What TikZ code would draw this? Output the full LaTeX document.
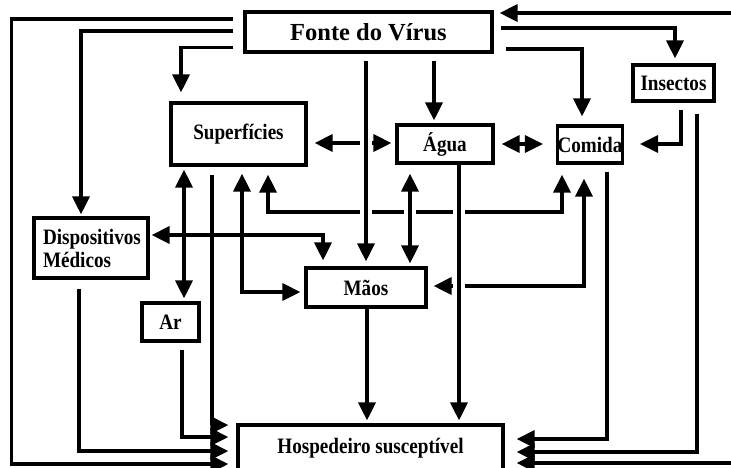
\documentclass[tikz,border=0pt]{standalone}
\usepackage{fontspec}
\setmainfont{Liberation Serif}
\newfontfamily\lbl[FakeStretch=0.87]{Liberation Serif}
\newfontfamily\ttl{Liberation Serif}
\usetikzlibrary{arrows.meta,backgrounds}
\tikzset{
  box/.style={draw, line width=3.2pt, inner sep=0pt,
    font=\lbl\bfseries\fontsize{22}{23}\selectfont},
  tipA/.tip={Triangle[length=18pt,width=17pt]},
  conn/.style={line width=3.2pt},
  arr/.style={conn, -tipA},
  darr/.style={conn, tipA-tipA},
  gapper/.style={preaction={draw=white, line width=12pt}}
}
\begin{document}
\begin{tikzpicture}[x=1pt,y=-1pt]
\useasboundingbox (0,0) rectangle (731,467);
% nodes
\node[box, minimum width=247pt, minimum height=40pt,
      font=\ttl\bfseries\fontsize{24.5}{26}\selectfont] (fonte) at (368.5,32) {Fonte do Vírus};
\node[box, minimum width=81pt, minimum height=36pt] (insectos) at (673.5,83) {Insectos};
\node[box, minimum width=135pt, minimum height=62pt] (superf) at (238.5,134) {Superfícies};
\node[box, minimum width=96pt, minimum height=38pt] (agua) at (445,144) {Água};
\node[box, minimum width=64pt, minimum height=37pt] (comida) at (590,144.5) {Comida};
\node[box, minimum width=114pt, minimum height=60pt, align=left, text width=96pt] (disp) at (91,248) {Dispositivos\\Médicos};
\node[box, minimum width=120pt, minimum height=39pt] (maos) at (366,287.5) {Mãos};
\node[box, minimum width=57pt, minimum height=38pt] (ar) at (170.5,322) {Ar};
\node[box, minimum width=265pt, minimum height=46pt] (hosp) at (370.5,448) {Hospedeiro susceptível};
\coordinate (offR) at (745,0);

\begin{scope}[on background layer]
% horizontal lines that get gaps (drawn first)
\draw[darr, shorten <=7pt, shorten >=4pt] (superf.east |- 0,143) -- (agua.west |- 0,143);
\draw[darr, shorten <=8pt, shorten >=10pt] (superf.south -| 268,0) |- (562,212) -- (comida.south -| 562,0);
\draw[darr, shorten <=14pt, shorten >=6pt] (comida.south -| 584,0) |- (maos.east |- 0,286);
% lines from Fonte
\draw[arr, shorten <=10pt, shorten >=8pt] (fonte.west |- 0,19) -| (11.5,464) -- (hosp.west |- 0,464);
\draw[arr, shorten <=10pt, shorten >=2pt] (fonte.west |- 0,31) -| (disp.north -| 81,0);
\draw[arr, shorten <=10pt, shorten >=9pt] (fonte.west |- 0,47.5) -| (superf.north -| 181,0);
\draw[arr, gapper, shorten <=7pt, shorten >=5pt] (fonte.south -| 366,0) -- (maos.north -| 366,0);
\draw[arr, shorten <=7pt, shorten >=3pt] (fonte.south -| 434,0) -- (agua.north -| 434,0);
\draw[arr, shorten <=12pt, shorten >=8pt] (fonte.east |- 0,49) -| (comida.north -| 582,0);
\draw[arr, shorten <=7pt, shorten >=5pt] (fonte.east |- 0,28) -| (insectos.north -| 675,0);
% from the right edge
\draw[arr, shorten >=6pt] (offR |- 0,13) -- (fonte.east |- 0,13);
\draw[arr, shorten >=12pt] (offR |- 0,463) -- (hosp.east |- 0,463);
% others
\draw[darr, shorten <=7pt, shorten >=13pt] (agua.east |- 0,144) -- (comida.west |- 0,144);
\draw[arr, shorten <=7pt, shorten >=16pt] (insectos.south -| 681,0) |- (comida.east |- 0,144);
\draw[darr, shorten <=3pt, shorten >=3pt] (superf.south -| 184,0) -- (ar.north -| 184,0);
\draw[arr, shorten <=8pt, shorten >=8pt] (superf.south -| 212,0) |- (hosp.west |- 0,425);
\draw[arr, shorten <=7pt, shorten >=8pt] (ar.south -| 182,0) |- (hosp.west |- 0,437);
\draw[arr, shorten <=9pt, shorten >=8pt] (disp.south -| 79,0) |- (hosp.west |- 0,451);
\draw[darr, shorten <=7pt, shorten >=4pt] (superf.south -| 242,0) |- (maos.west |- 0,292);
\draw[darr, gapper, shorten <=9pt, shorten >=3pt] (agua.south -| 410,0) -- (maos.north -| 410,0);
\draw[arr, gapper, shorten >=3pt] (agua.south -| 459,0) -- (hosp.north -| 459,0);
\draw[arr, shorten >=3pt] (maos.south -| 367,0) -- (hosp.north -| 367,0);
\draw[arr, shorten <=7pt, shorten >=12pt] (comida.south -| 607,0) |- (hosp.east |- 0,439);
\draw[arr, shorten <=11pt, shorten >=12pt] (insectos.south -| 697,0) |- (hosp.east |- 0,452);
\draw[darr, shorten <=2pt, shorten >=6pt] (disp.east |- 0,235) -| (maos.north -| 323,0);
\end{scope}
\end{tikzpicture}
\end{document}
